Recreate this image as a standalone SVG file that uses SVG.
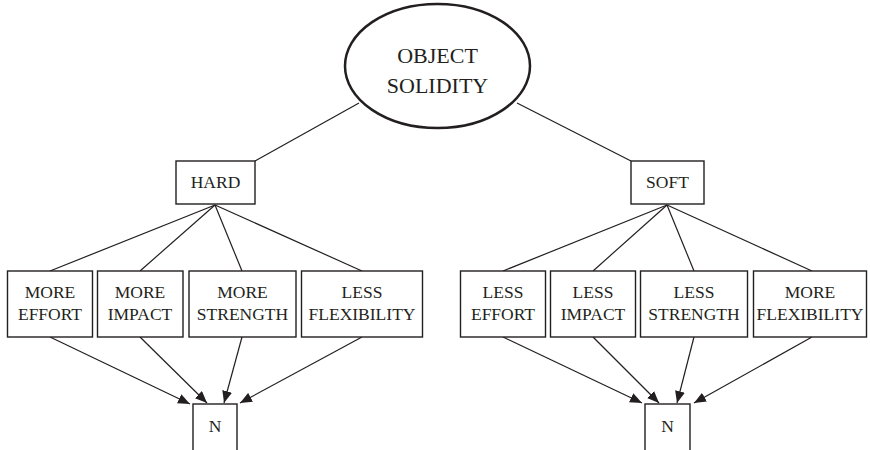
<svg xmlns="http://www.w3.org/2000/svg" width="870" height="450" viewBox="0 0 870 450">
<defs>
<marker id="arr" markerUnits="userSpaceOnUse" markerWidth="12" markerHeight="10" viewBox="0 0 12 10" refX="12" refY="5" orient="auto">
<path d="M0,0 L12,5 L0,10 Z" fill="#231f20"/>
</marker>
<style>
.box{fill:#fff;stroke:#231f20;stroke-width:1.4}
.ell{fill:#fff;stroke:#231f20;stroke-width:2.5}
.ln{stroke:#231f20;stroke-width:1.2;fill:none}
.ar{stroke:#231f20;stroke-width:1.2;fill:none;marker-end:url(#arr)}
text{font-family:'Liberation Serif','Times New Roman',serif;fill:#231f20;text-anchor:middle}
.t{font-size:17.5px}
.big{font-size:22px}
</style>
</defs>
<rect width="870" height="450" fill="#fff"/>
<g id="connectors">
<line class="ln" x1="359" y1="103" x2="255" y2="161"/>
<line class="ln" x1="517" y1="103" x2="631" y2="161"/>
<line class="ln" x1="215" y1="205" x2="50" y2="271"/>
<line class="ln" x1="215" y1="205" x2="140" y2="271"/>
<line class="ln" x1="215" y1="205" x2="242" y2="271"/>
<line class="ln" x1="215" y1="205" x2="362" y2="271"/>
<line class="ln" x1="667" y1="205" x2="503" y2="271"/>
<line class="ln" x1="667" y1="205" x2="593" y2="271"/>
<line class="ln" x1="667" y1="205" x2="694" y2="271"/>
<line class="ln" x1="667" y1="205" x2="812" y2="271"/>
<line class="ar" x1="50" y1="337" x2="190" y2="404"/>
<line class="ar" x1="140" y1="337" x2="207" y2="403"/>
<line class="ar" x1="242" y1="337" x2="224" y2="403"/>
<line class="ar" x1="362" y1="337" x2="240" y2="403"/>
<line class="ar" x1="503" y1="337" x2="642" y2="403"/>
<line class="ar" x1="593" y1="337" x2="659" y2="403"/>
<line class="ar" x1="694" y1="337" x2="677" y2="403"/>
<line class="ar" x1="812" y1="337" x2="694" y2="403"/>
</g>
<g id="root">
<ellipse class="ell" cx="437.5" cy="66" rx="92.5" ry="62"/>
<text class="big" x="437.5" y="63">OBJECT</text>
<text class="big" x="437.5" y="93">SOLIDITY</text>
</g>
<g id="hard">
<rect class="box" x="176" y="161" width="79" height="43"/>
<text class="t" x="215.5" y="188">HARD</text>
</g>
<g id="soft">
<rect class="box" x="631" y="161" width="73" height="43"/>
<text class="t" x="667.5" y="188">SOFT</text>
</g>
<g id="more-effort">
<rect class="box" x="7.5" y="271" width="85" height="66"/>
<text class="t" x="50" y="298">MORE</text>
<text class="t" x="50" y="320">EFFORT</text>
</g>
<g id="more-impact">
<rect class="box" x="97.5" y="271" width="85.5" height="66"/>
<text class="t" x="140" y="298">MORE</text>
<text class="t" x="140" y="320">IMPACT</text>
</g>
<g id="more-strength">
<rect class="box" x="189" y="271" width="107" height="66"/>
<text class="t" x="242.5" y="298">MORE</text>
<text class="t" x="242.5" y="320">STRENGTH</text>
</g>
<g id="less-flexibility">
<rect class="box" x="301.5" y="271" width="121" height="66"/>
<text class="t" x="362" y="298">LESS</text>
<text class="t" x="362" y="320">FLEXIBILITY</text>
</g>
<g id="less-effort">
<rect class="box" x="460.5" y="271" width="85" height="66"/>
<text class="t" x="503" y="298">LESS</text>
<text class="t" x="503" y="320">EFFORT</text>
</g>
<g id="less-impact">
<rect class="box" x="550.5" y="271" width="85" height="66"/>
<text class="t" x="593" y="298">LESS</text>
<text class="t" x="593" y="320">IMPACT</text>
</g>
<g id="less-strength">
<rect class="box" x="640.5" y="271" width="107" height="66"/>
<text class="t" x="694" y="298">LESS</text>
<text class="t" x="694" y="320">STRENGTH</text>
</g>
<g id="more-flexibility">
<rect class="box" x="753.5" y="271" width="113" height="66"/>
<text class="t" x="810" y="298">MORE</text>
<text class="t" x="810" y="320">FLEXIBILITY</text>
</g>
<g id="n-left">
<rect class="box" x="193" y="404" width="44" height="60"/>
<text class="t" x="215" y="432">N</text>
</g>
<g id="n-right">
<rect class="box" x="645" y="404" width="45" height="60"/>
<text class="t" x="667.5" y="432">N</text>
</g>
</svg>
